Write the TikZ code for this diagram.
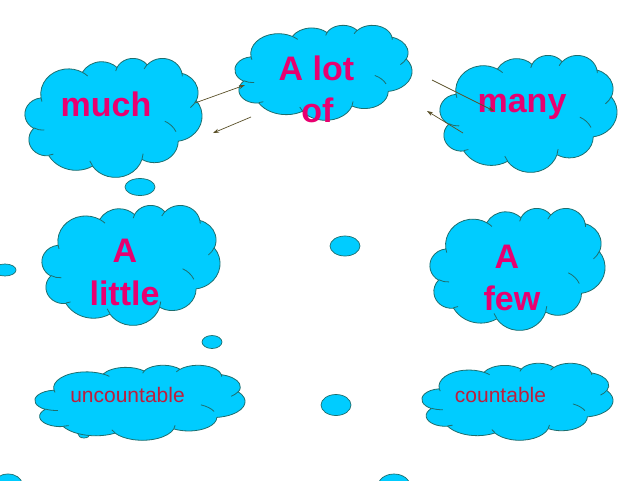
\documentclass[tikz,border=0pt]{standalone}
\usepackage{fontspec}
\setmainfont{Liberation Sans}
\usetikzlibrary{shapes.geometric,arrows.meta}
\definecolor{cloudfill}{RGB}{0,204,255}
\definecolor{cloudline}{RGB}{30,110,110}
\definecolor{pinktxt}{RGB}{232,0,112}
\definecolor{redtxt}{RGB}{190,30,60}
\definecolor{arrowc}{RGB}{90,80,40}
% arc given with "visual" angles: x radius, y radius, start, sweep
\newcommand\carc[4]{\pgfextra{%
  \pgfmathsetmacro\tA{atan2((#1)*sin(#3),(#2)*cos(#3))}%
  \pgfmathsetmacro\tB{atan2((#1)*sin((#3)+(#4)),(#2)*cos((#3)+(#4)))}%
  \pgfmathsetmacro\tB{\tB<\tA ? \tB+360 : \tB}%
  \global\let\tA\tA \global\let\tB\tB}%
  arc[start angle=\tA, end angle=\tB, x radius=#1, y radius=#2]}
% cloud in box: left, top, width, height
\newcommand\pcloud[4]{%
  \pgfmathsetmacro\cwx{#3/432}\pgfmathsetmacro\chy{-#4/432}%
  \begin{scope}[shift={(#1,#2)}, x=\cwx pt, y=\chy pt]
    \draw[cloudpath, fill=cloudfill] (39,143.7)
      \carc{67.53}{91.90}{-190.487}{123.781}
      \carc{53.33}{72.67}{-144.102}{89.945}
      \carc{43.65}{59.45}{-145.808}{99.723}
      \carc{48.57}{65.95}{-130.986}{117.242}
      \carc{53.33}{72.73}{-78.709}{109.027}
      \carc{67.75}{92.20}{-46.267}{130.269}
      \carc{57.85}{78.67}{0.625}{114.033}
      \carc{67.52}{92.15}{22.452}{115.173}
      \carc{77.20}{105.43}{66.243}{75.711}
      \carc{43.60}{59.18}{-274.942}{146.736}
      \carc{43.45}{59.45}{-246.829}{152.519} -- cycle;
    \draw[cloudpath]
      (46.93,261.77) \carc{43.45}{59.45}{86.742}{26.430}
      (69.28,348.99) \carc{43.60}{59.18}{73.610}{11.447}
      (164.78,390.90) \carc{67.52}{92.15}{137.624}{14.081}
      (288.27,347.51) \carc{67.52}{92.15}{6.453}{15.998}
      (341.29,229.54) \carc{57.85}{78.67}{-70.292}{38.386}
      (417.98,153.54) \carc{53.33}{72.73}{30.318}{27.532}
      (383.24,54.26) \carc{48.57}{65.95}{-13.744}{14.859}
      (290.78,39.52) \carc{48.57}{65.95}{-149.181}{18.195}
      (221.41,47.20) \carc{43.65}{59.45}{-163.494}{17.686}
      (140.00,51.92) \carc{67.53}{91.90}{-66.707}{12.319}
      (41.27,157.89) \carc{67.53}{91.90}{157.654}{11.858};
  \end{scope}}
\begin{document}
\begin{tikzpicture}[x=1pt,y=-1pt,
  cloudpath/.style={draw=cloudline, line width=0.8pt, line join=round},
  bubble/.style={ellipse, fill=cloudfill, draw=cloudline, line width=0.7pt, inner sep=0pt},
  bigtxt/.style={font=\bfseries\fontsize{34}{42}\selectfont, text=pinktxt, inner sep=0pt, anchor=base},
  smalltxt/.style={font=\fontsize{21}{25}\selectfont, text=redtxt, inner sep=0pt, anchor=base},
  arr/.style={draw=arrowc, line width=0.7pt, -{Stealth[length=6pt,width=4pt]}}]
\fill[white] (0,0) rectangle (640,480);
\useasboundingbox (0,0) rectangle (640,480);
% bubbles
\node[bubble, minimum width=30pt, minimum height=17pt] (b1) at (140,187) {};
\node[bubble, minimum width=22pt, minimum height=12pt] (b2) at (5,270) {};
\node[bubble, minimum width=30pt, minimum height=20pt] (b3) at (345,246) {};
\node[bubble, minimum width=20pt, minimum height=13pt] (b4) at (212,342) {};
\node[bubble, minimum width=30pt, minimum height=21pt] (b5) at (336,405) {};
\node[bubble, minimum width=12pt, minimum height=8pt] (b6) at (84,434) {};
\node[bubble, minimum width=28pt, minimum height=20pt] (b7) at (8,484) {};
\node[bubble, minimum width=32pt, minimum height=24pt] (b8) at (394,486) {};
% clouds
\pcloud{25}{58}{177}{119}
\pcloud{235}{25}{177}{95}
\pcloud{440}{55}{177}{117}
\pcloud{42}{205}{178}{120}
\pcloud{430}{208}{175}{122}
\pcloud{35}{365}{210}{75}
\pcloud{422}{363}{191}{77}
% texts
\node[bigtxt] (tmuch) at (106,116) {much};
\node[bigtxt] (talot1) at (316.5,80) {A lot};
\node[bigtxt] (talot2) at (317.5,122) {of};
\node[bigtxt] (tmany) at (522,112) {many};
\node[bigtxt] (tlittle1) at (125,262) {A};
\node[bigtxt] (tlittle2) at (124.5,305) {little};
\node[bigtxt] (tfew1) at (507,268) {A};
\node[bigtxt] (tfew2) at (512,310) {few};
\node[smalltxt] (tunc) at (127.5,402) {uncountable};
\node[smalltxt] (tcnt) at (500.5,402) {countable};
% arrows
\coordinate (a1s) at (195,103); \coordinate (a1e) at (245,85);
\coordinate (a2s) at (251,117); \coordinate (a2e) at (213,133);
\coordinate (a3s) at (432,80); \coordinate (a3e) at (494,111);
\coordinate (a4s) at (463,133); \coordinate (a4e) at (427,111);
\draw[arr] (a1s) -- (a1e);
\draw[arr] (a2s) -- (a2e);
\draw[arr] (a3s) -- (a3e);
\draw[arr] (a4s) -- (a4e);
\end{tikzpicture}
\end{document}
